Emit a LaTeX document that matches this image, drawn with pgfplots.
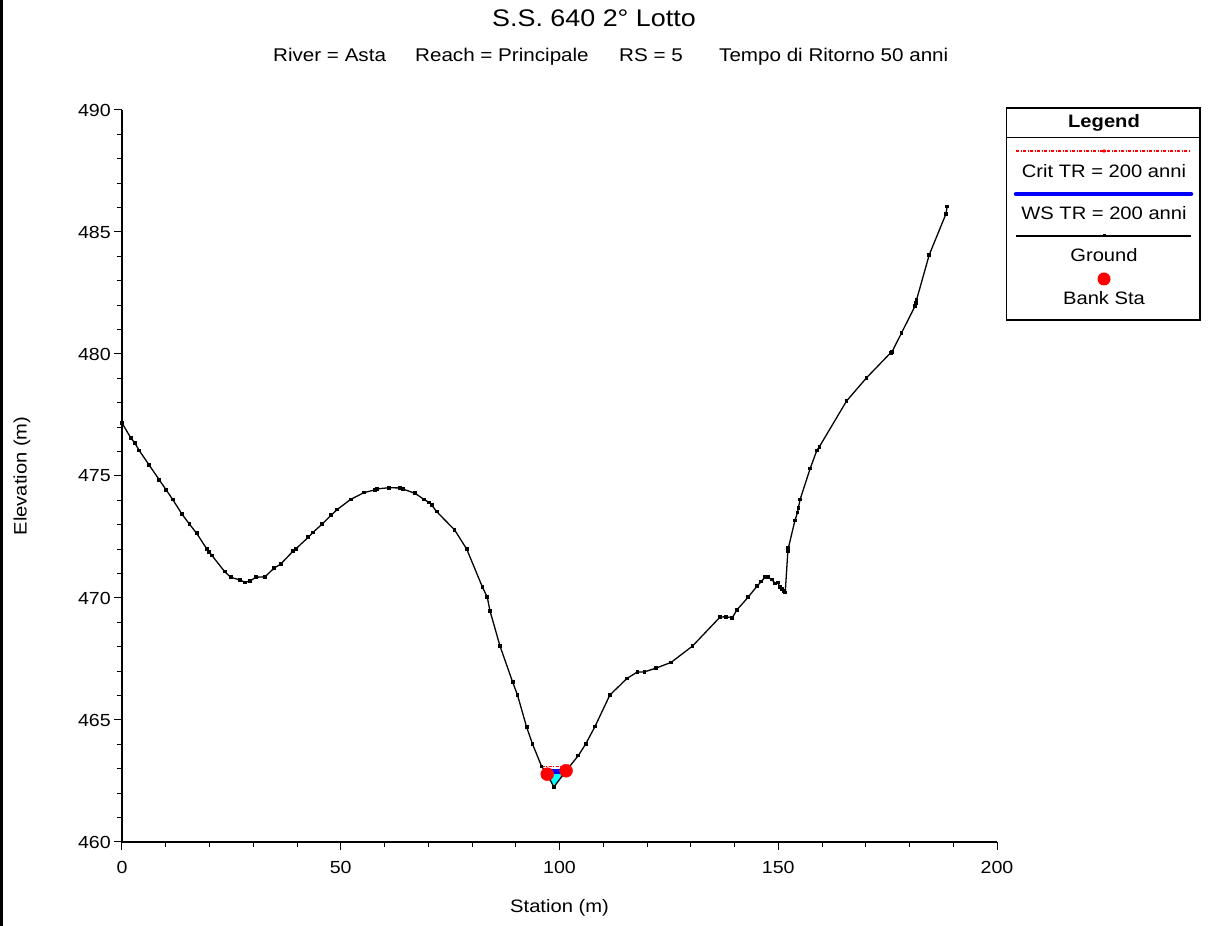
\documentclass[border=0pt]{standalone}
\usepackage{fontspec}
\setmainfont{Liberation Sans}[FakeStretch=1.12]
\usepackage{pgfplots}
\pgfplotsset{compat=1.18}
\definecolor{wsblue}{RGB}{0,0,255}
\definecolor{wcyan}{RGB}{0,255,255}
\definecolor{bankred}{RGB}{255,0,0}
\begin{document}
\begin{tikzpicture}[x=1pt,y=1pt]
\path[use as bounding box] (0,0) rectangle (1208,926);
\fill[black] (0,0) rectangle (3,926);
\begin{axis}[
 at={(122pt,84pt)}, anchor=south west,
 scale only axis, width=875pt, height=732pt,
 xmin=0,xmax=200,ymin=460,ymax=490,
 axis x line=bottom, axis y line=left,
 axis line style={-, line width=1.3pt},
 xtick={0,50,...,200}, ytick={460,465,...,490},
 minor x tick num=4, minor y tick num=4,
 tick align=outside, major tick length=8pt, minor tick length=5pt,
 tick style={black, line width=1pt},
 /pgf/number format/assume math mode=true,
 ticklabel style={font=\fontsize{17.5}{17.5}\selectfont, inner sep=0pt},
 xticklabel style={anchor=north, yshift=-11pt},
 yticklabel style={anchor=east, xshift=-3pt},
 xlabel={Station (m)}, ylabel={Elevation (m)},
 every axis x label/.style={at={(axis description cs:0.5,-0.090)}, anchor=center, font=\fontsize{18}{18}\selectfont},
 every axis y label/.style={at={(axis description cs:-0.1143,0.5)}, anchor=center, rotate=90, font=\fontsize{18}{18}\selectfont},
 clip=false,
]
% water fill below WS
\addplot[fill=wcyan, draw=none] coordinates {(96.8,462.88) (97.2,462.78) (98.7,462.25) (101.33,462.88) (96.8,462.88)};
% Ground
\addplot[black, line width=1.3pt, mark=square*, mark size=1.2pt, mark options={solid}] coordinates {
(0,477.17) (1.98,476.57) (2.97,476.34) (3.96,476.04) (6.24,475.44) (8.53,474.84)
(10.06,474.44) (11.58,474.04) (13.7,473.44) (15.4,473.03) (17.07,472.65) (19.35,472.02)
(19.96,471.89) (20.57,471.74) (23.47,471.08) (24.84,470.85) (26.97,470.74) (28.11,470.64)
(29.26,470.70) (30.63,470.85) (32.69,470.87) (34.74,471.22) (36.27,471.39) (39.16,471.93)
(39.77,472.02) (42.59,472.49) (43.59,472.68) (45.71,473.02) (47.84,473.40) (49.22,473.63)
(52.27,474.04) (55.31,474.32) (57.83,474.43) (58.36,474.47) (60.95,474.52) (63.54,474.51)
(64.3,474.46) (66.97,474.29) (69.03,474.04) (70.25,473.91) (70.78,473.81) (71.92,473.54)
(76.03,472.79) (78.8,472.0) (82.4,470.44) (83.5,470.03) (84.1,469.48) (86.4,468.03)
(89.3,466.55) (90.4,466.02) (92.5,464.7) (93.8,464.03) (95.9,463.1) (97.2,462.78)
(98.7,462.25) (101.5,462.92) (104.3,463.54) (106.0,464.02) (108.1,464.73) (111.5,466.02)
(115.4,466.7) (117.8,466.97) (119.4,466.97) (122.1,467.13) (125.5,467.36) (130.4,468.03)
(136.7,469.22) (138.0,469.23) (139.5,469.19) (140.5,469.5) (143.1,470.03) (145.2,470.5)
(146.1,470.67) (147.0,470.85) (147.7,470.85) (148.5,470.76) (149.3,470.6) (149.9,470.63)
(150.4,470.44) (150.8,470.36) (151.3,470.28) (151.6,470.23) (152.2,471.94) (152.3,472.04)
(153.8,473.17) (154.4,473.5) (154.6,473.7) (155.0,474.04) (157.3,475.31) (158.8,476.04)
(159.4,476.2) (165.6,478.07) (170.2,479.03) (175.7,480.05) (176.0,480.09) (178.2,480.87)
(181.3,481.98) (181.5,482.08) (181.6,482.21) (184.5,484.06) (188.3,485.73) (188.6,486.04)
};
% Bank stations
\addplot[only marks, mark=*, mark size=6.5pt, color=bankred] coordinates {(97.2,462.78) (101.5,462.92)};
% WS
\addplot[wsblue, line width=5pt, line cap=round] coordinates {(96.8,462.88) (101.33,462.88)};
% Crit
\addplot[bankred, line width=1.1pt, dash pattern=on 3pt off 1.5pt on 1pt off 1.5pt] coordinates {(95.9,463.1) (102.27,463.1)};
\end{axis}
% Titles
\node[anchor=base, font=\fontsize{24}{24}\selectfont] at (594,899) {S.S. 640 2° Lotto};
\begin{scope}[every node/.style={anchor=base west, inner sep=0pt, font=\fontsize{18.4}{18.4}\selectfont}]
\node at (273,864) {River = Asta};
\node at (415,864) {Reach = Principale};
\node at (619,864) {RS = 5};
\node at (719,864) {Tempo di Ritorno 50 anni};
\end{scope}
% Legend
\draw[black, line width=1.2pt] (1006.5,818) rectangle (1200,606);
\draw[black, line width=1pt] (1006.5,788) -- (1200,788);
\begin{scope}[every node/.style={anchor=base, inner sep=0pt, font=\fontsize{18}{18}\selectfont}]
\node[font=\fontsize{18}{18}\selectfont\bfseries] at (1104,798) {Legend};
\draw[bankred, line width=1.2pt, dash pattern=on 3pt off 1.5pt on 1pt off 1.5pt] (1016,775) -- (1191,775);
\fill[bankred] (1104,775) circle (1.8);
\node at (1104,748) {Crit TR = 200 anni};
\draw[wsblue, line width=4.5pt, line cap=round] (1016,732) -- (1191,732);
\node at (1104,706) {WS TR = 200 anni};
\draw[black, line width=1.3pt] (1016,690) -- (1191,690);
\fill[black] (1102.5,688.5) rectangle (1105.5,691.5);
\node at (1104,664) {Ground};
\fill[bankred] (1104,647) circle (6.5);
\node at (1104,621) {Bank Sta};
\end{scope}
\end{tikzpicture}
\end{document}
